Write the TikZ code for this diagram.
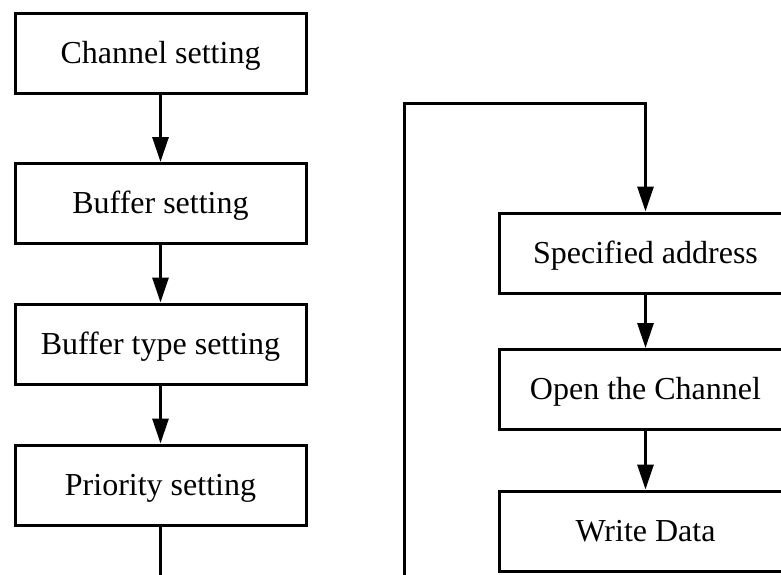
\documentclass[tikz,border=0pt]{standalone}
\usepackage{fontspec}
\setmainfont{Liberation Serif}
\usetikzlibrary{arrows.meta}
\begin{document}
\begin{tikzpicture}[x=1pt,y=-1pt,
  stepbox/.style={draw,line width=3pt,minimum width=291pt,minimum height=80pt,
    inner sep=0pt,text height=25pt,text depth=5pt,
    font=\fontsize{32}{38}\selectfont},
  flow/.style={line width=3pt,-{Triangle[length=25pt,width=16pt]}},
  wire/.style={line width=3pt}]
\useasboundingbox (0,0) rectangle (781,575);
\clip (0,0) rectangle (781,575);
% configuration sequence
\node[stepbox] (chan) at (160.5,54)    {Channel setting};
\node[stepbox] (buf)  at (160.5,203.5) {Buffer setting};
\node[stepbox] (btyp) at (160.5,344)   {Buffer type setting};
\node[stepbox] (prio) at (160.5,485)   {Priority setting};
% transfer sequence
\node[stepbox,minimum width=293pt] (addr) at (645.5,253)   {Specified address};
\node[stepbox,minimum width=293pt] (open) at (645.5,389.5) {Open the Channel};
\node[stepbox,minimum width=293pt] (wrt)  at (645.5,531)   {Write Data};
\coordinate (outL) at (160.5,580);
\coordinate (inL)  at (404,580);
\coordinate (top)  at (404,104);
\draw[flow] (chan) -- (buf);
\draw[flow] (buf) -- (btyp);
\draw[flow] (btyp) -- (prio);
\draw[wire] (prio) -- (outL);
\draw[flow] (inL) -- (top) -| (addr);
\draw[flow] (addr) -- (open);
\draw[flow] (open) -- (wrt);
\end{tikzpicture}
\end{document}
